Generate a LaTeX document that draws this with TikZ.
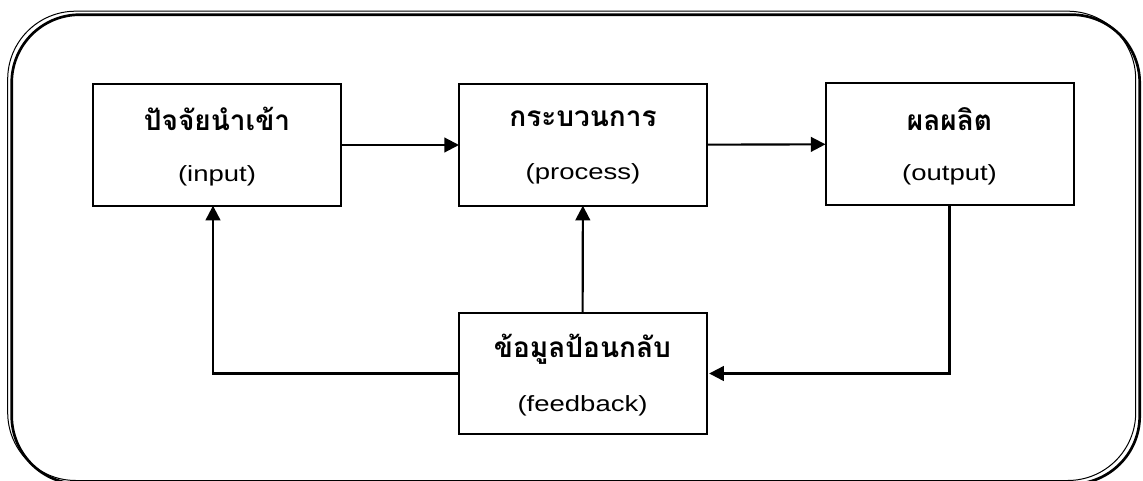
\documentclass[tikz,border=0pt]{standalone}
\usepackage{fontspec}
\setmainfont{Liberation Sans}[FakeStretch=1.25]
\newfontfamily\thaifont[Script=Thai]{Loma}
\usetikzlibrary{arrows.meta}

\tikzset{
  box/.style={draw, line width=1.5pt, minimum width=186pt, minimum height=91pt, inner sep=0pt, outer sep=0pt},
  thaitext/.style={font=\thaifont\bfseries\fontsize{21}{25}\selectfont, inner sep=0pt},
  engtext/.style={font=\fontsize{16.5}{20}\selectfont, inner sep=0pt},
  flow/.style={line width=1.6pt, -{Triangle[length=11pt,width=11pt]}}
}

\begin{document}
\begin{tikzpicture}[x=0.75pt,y=-0.75pt]
				\useasboundingbox (0,0) rectangle (1143,481);
				
				% frame
				\draw [line width=0.75pt, rounded corners=51pt] (7.7,11.2) rectangle (1135.7,480.5);
				\draw [line width=2pt, rounded corners=51pt] (11.7,14.7) rectangle (1139.7,484);
				
				\node (in) at (217,145) [box] {};
				\node (proc) at (583,145) [box] {};
				\node (out) at (949.5,144) [box] {};
				\node (fb) at (582.5,373.5) [box] {};
				
				\node (in1) at (217,119) [thaitext] {ปัจจัยนำเข้า};
				\node (in2) at (217,176) [engtext] {(input)};
				\node (proc1) at (583,118.5) [thaitext] {กระบวนการ};
				\node (proc2) at (583,174) [engtext] {(process)};
				\node (out1) at (949.5,119) [thaitext] {ผลผลิต};
				\node (out2) at (949.5,175) [engtext] {(output)};
				\node (fb1) at (582.5,349) [thaitext] {ข้อมูลป้อนกลับ};
				\node (fb2) at (582.5,406) [engtext] {(feedback)};
				
				\draw [flow] (in) edge (proc);
				\draw [flow] (proc) edge (out);
				\draw [flow] (fb) edge (proc);
				\draw [flow] (out.south) |- ([xshift=2pt]fb.east);
				\draw [flow] (fb.west) -| ([xshift=-3pt]in.south);
				\end{tikzpicture}
\end{document}
